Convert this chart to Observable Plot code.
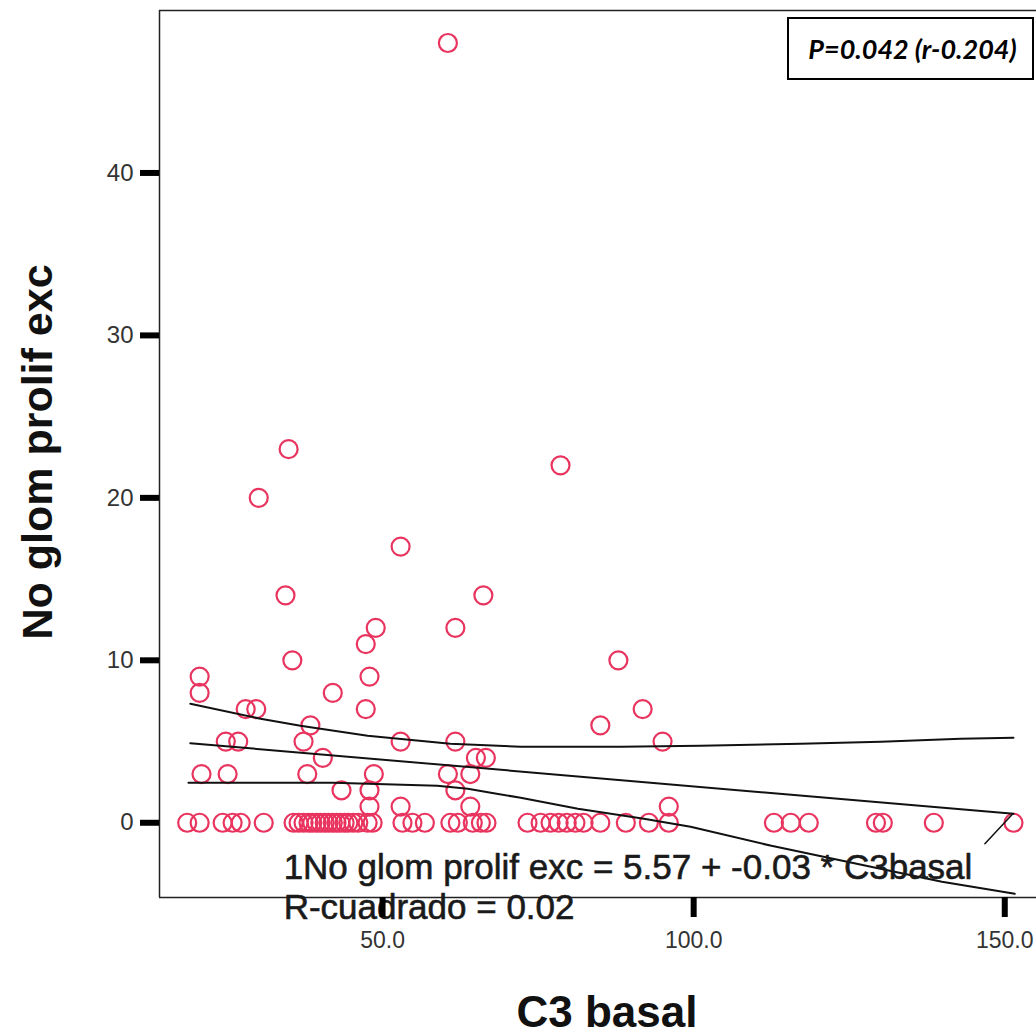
<!DOCTYPE html>
<html><head><meta charset="utf-8">
<script src="https://cdn.jsdelivr.net/npm/d3@7"></script>
<script src="https://cdn.jsdelivr.net/npm/@observablehq/plot@0.6"></script>
<style>
html,body{margin:0;padding:0;background:#fff;}
#wrap{position:relative;width:1036px;height:1034px;overflow:hidden;}
#wrap svg{position:absolute;left:0;top:0;}
#pbox{position:absolute;z-index:2;left:787px;top:17px;width:239px;height:59px;border:2px solid #000;background:#fff;
 font-family:Lato,"Open Sans",sans-serif;font-weight:bold;font-style:italic;font-size:27px;color:#000;
 display:flex;align-items:center;justify-content:center;padding-left:4px;box-sizing:content-box;}
</style></head><body>
<div id="wrap"><div id="pbox">P=0.042 (r-0.204)</div></div>
<script>
// ---- data ----
const c3basal = [
  // zero row
  18.6, 20.6, 24.3, 25.9, 27.2, 30.9, 35.7, 36.5, 37.3, 38.1, 38.7, 39.4, 40.0, 40.7, 41.3, 42.0, 42.6, 43.2, 43.9, 44.5,
  45.3, 46.1, 47.6, 48.4, 53.2, 54.8, 56.8, 60.9, 62.1, 64.5, 65.8, 66.7, 73.3, 75.4, 77.0, 78.3, 79.6, 81.0, 82.3, 85.0,
  89.1, 92.8, 96.0, 112.9, 115.6, 118.5, 129.3, 130.4, 138.6, 151.4,
  // other points
  60.5, 34.9, 30.1, 78.6, 52.9, 34.4, 66.2, 48.9, 61.7, 47.3, 35.5, 87.9, 20.6, 47.9, 20.6, 42.0, 91.8, 28.0, 29.7, 47.3,
  85.0, 38.4, 24.8, 26.8, 37.3, 52.9, 61.7, 95.0, 40.4, 65.0, 66.6, 20.9, 25.1, 37.9, 48.6, 60.5, 64.1, 43.4, 47.9, 61.7,
  52.9, 47.9, 64.1, 96.0
];
const glomProlifExc = [
  0,0,0,0,0,0,0,0,0,0,0,0,0,0,0,0,0,0,0,0,
  0,0,0,0,0,0,0,0,0,0,0,0,0,0,0,0,0,0,0,0,
  0,0,0,0,0,0,0,0,0,0,
  48, 23, 20, 22, 17, 14, 14, 12, 12, 11, 10, 10, 9, 9, 8, 8, 7, 7, 7, 7,
  6, 6, 5, 5, 5, 5, 5, 5, 4, 4, 4, 3, 3, 3, 3, 3, 3, 2, 2, 2,
  1, 1, 1, 1
];
// regression line and confidence band
const fitX = [19.1, 151.4];
const fitY = [4.90, 0.55];
const upperX = [19.1, 30.4, 36.8, 47.6, 60.9, 72.2, 88.3, 101.1, 117.2, 130.1, 142.9, 151.4];
const upperY = [7.33, 6.40, 5.97, 5.36, 4.86, 4.68, 4.68, 4.74, 4.86, 4.99, 5.17, 5.23];
const lowerX = [18.8, 42.1, 58.8, 63.7, 67.4, 72.2, 81.4, 92.0, 99.5, 112.5, 126.2, 139.9, 151.6];
const lowerY = [2.46, 2.46, 2.28, 2.09, 1.85, 1.54, 0.86, 0.25, -0.25, -1.42, -2.52, -3.63, -4.37];
const leaderX = [146.8, 151.3];
const leaderY = [-1.29, 0.55];
const xTicks = [50, 100, 150];
const yTicks = [0, 10, 20, 30, 40];
const xDomain = [14.15, 155.1];
const yDomain = [-4.6, 50];
const xTitle = "C3 basal";
const yTitle = "No glom prolif exc";
const eqLines = ["1No glom prolif exc = 5.57 + -0.03 * C3basal", "R-cuadrado = 0.02"];
const eqX = [34.1, 34.1];
const eqY = [-3.45, -5.91];

const pts = c3basal.map((x, i) => ({x, y: glomProlifExc[i]}));
const pairs = (xs, ys) => xs.map((x, i) => ({x, y: ys[i]}));

const font = "'Liberation Sans', Arial, sans-serif";
const chart = Plot.plot({
  width: 1036,
  height: 1034,
  marginLeft: 159,
  marginRight: 0,
  marginTop: 10,
  marginBottom: 137,
  style: {fontFamily: font, background: "white"},
  x: {domain: xDomain},
  y: {domain: yDomain},
  marks: [
    Plot.ruleX([xDomain[0]], {stroke: "#222", strokeWidth: 1.5}),
    Plot.ruleY([yDomain[0], yDomain[1]], {stroke: "#222", strokeWidth: 1.5}),
    Plot.dot(pts, {x: "x", y: "y", r: 9, stroke: "#e8345e", strokeWidth: 2.2, fill: "none"}),
    Plot.line(pairs(upperX, upperY), {x: "x", y: "y", stroke: "#111", strokeWidth: 2}),
    Plot.line(pairs(fitX, fitY), {x: "x", y: "y", stroke: "#111", strokeWidth: 2}),
    Plot.line(pairs(lowerX, lowerY), {x: "x", y: "y", stroke: "#111", strokeWidth: 2}),
    Plot.line(pairs(leaderX, leaderY), {x: "x", y: "y", stroke: "#111", strokeWidth: 1.5}),
    Plot.text(eqLines, {x: (d, i) => eqX[i], y: (d, i) => eqY[i], text: d => d, textAnchor: "start", lineAnchor: "bottom",
      fontSize: 35, fill: "#1a1a1a", stroke: "#1a1a1a", strokeWidth: 0.6}),
    Plot.axisY({ticks: yTicks, tickSize: 19, strokeWidth: 6, stroke: "#000", fill: "#333", tickPadding: 7,
      fontSize: 24, label: null, tickFormat: d => String(d)}),
    Plot.axisX({ticks: xTicks, tickSize: 20, strokeWidth: 6, stroke: "#000", fill: "#333", tickPadding: 14,
      fontSize: 23, label: null, tickFormat: d3.format(".1f")}),
    Plot.text([xTitle], {frameAnchor: "bottom", lineAnchor: "bottom", dx: 9, dy: 129, fontSize: 44, fontWeight: "bold", fill: "#111"}),
    Plot.text([yTitle], {frameAnchor: "left", textAnchor: "middle", lineAnchor: "middle", rotate: -90, dx: -121, dy: -2,
      fontSize: 43, fontWeight: "bold", fill: "#111"})
  ]
});
document.getElementById("wrap").prepend(chart);
</script>
</body></html>
